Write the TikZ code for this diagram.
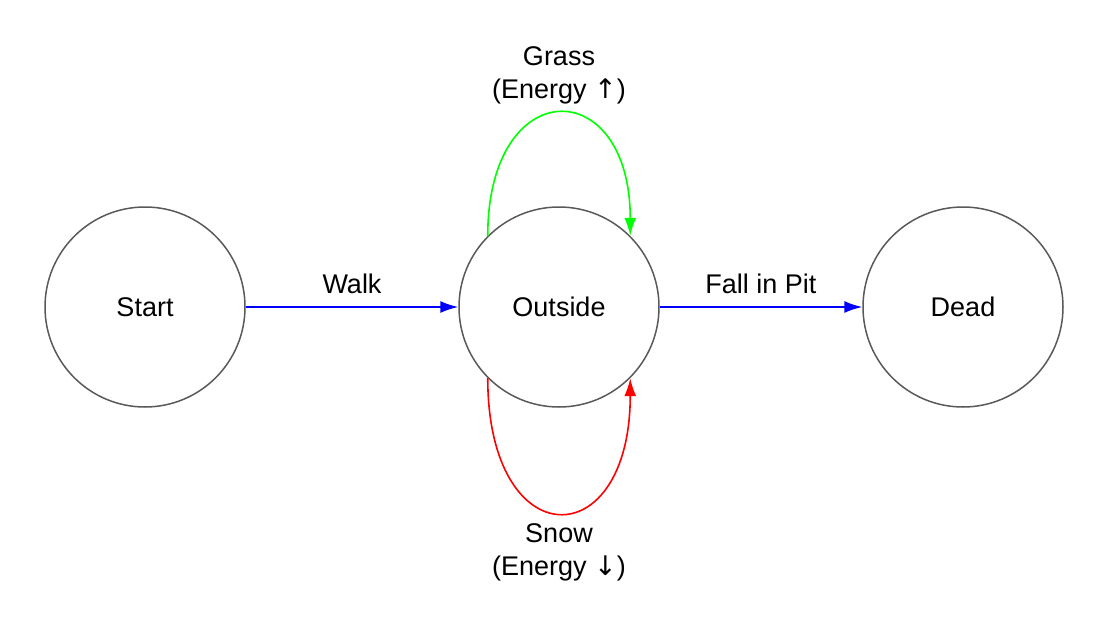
\documentclass[tikz,border=0pt]{standalone}
\usepackage{fontspec}
\setmainfont{Liberation Sans}
\newfontfamily\arrowfont{DejaVu Sans}
\usetikzlibrary{arrows.meta}
\begin{document}
\begin{tikzpicture}[x=1pt,y=-1pt,
  state/.style={circle, draw=black!65, line width=1.5pt, minimum size=200pt, inner sep=0pt, font=\fontsize{27}{32}\selectfont},
  lbl/.style={font=\fontsize{27}{33}\selectfont, align=center, inner sep=0pt, text=black},
  conn/.style={line width=1.6pt, -{Latex[length=18pt,width=12pt]}}
]
\useasboundingbox (0,0) rectangle (1112,642);
\node[state] (start) at (145,307) {Start};
\node[state] (outside) at (559,307) {Outside};
\node[state] (dead) at (963,307) {Dead};
\draw[conn, blue] (start) -- node[lbl, midway, yshift=23pt] (walk) {Walk} (outside);
\draw[conn, blue] (outside) -- node[lbl, midway, yshift=23pt] (fall) {Fall in Pit} (dead);
\draw[conn, green] (outside.135) .. controls +(0,-163) and +(0,-163) .. node[lbl, pos=0.5, anchor=south, yshift=9pt] (grass) {Grass\\(Energy {\arrowfont ↑})} (outside.45);
\draw[conn, red] (outside.225) .. controls +(0,179) and +(0,179) .. node[lbl, pos=0.5, anchor=north, yshift=-10pt] (snow) {Snow\\(Energy {\arrowfont ↓})} (outside.315);
\end{tikzpicture}
\end{document}
